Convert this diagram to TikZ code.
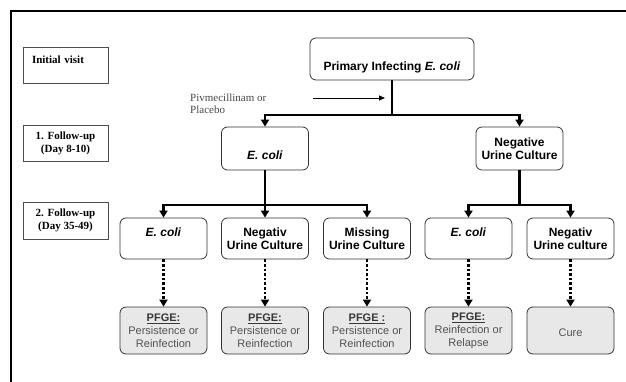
\documentclass[tikz,border=0pt]{standalone}
\usepackage{fontspec}
\setmainfont{Liberation Serif}
\setsansfont{Liberation Sans}
\usetikzlibrary{arrows.meta}
\tikzset{
  box/.style={draw=black!80, line width=0.8pt, rounded corners=6pt,
    minimum width=87pt, minimum height=41pt, inner sep=2pt, align=center,
    font=\sffamily\bfseries\fontsize{12}{13}\selectfont},
  pfgebox/.style={box, fill=black!9, minimum height=47pt, text=black!68,
    font=\sffamily\fontsize{11}{13}\selectfont},
  visit/.style={draw=black!70, line width=0.8pt, minimum width=85pt,
    minimum height=36pt, inner sep=0pt, align=center,
    font=\bfseries\fontsize{11}{13}\selectfont},
  tree/.style={line width=2.6pt},
  treearrow/.style={tree, -{Triangle[width=8pt,length=7pt]}},
  dotarrow/.style={line width=2.8pt, dash pattern=on 2.6pt off 2pt,
    -{Triangle[width=8pt,length=7pt]}},
}
\newcommand{\pfgehead}{{\color{black!78}\bfseries\underline{PFGE:}}}
\begin{document}
\begin{tikzpicture}[x=1pt,y=-1pt]
      \useasboundingbox (0,0) rectangle (626,382);
      % frame
      \draw[line width=2pt] (11,382) -- (11,11) -- (626,11);
      % visits
      \node[visit, text width=67pt, align=left, text height=7pt, text depth=10pt]
        (visit0) at (65.5,65) {Initial visit};
      \node[visit] (visit1) at (65.5,143) {1. Follow-up\\(Day 8-10)};
      \node[visit, minimum height=37pt] (visit2) at (65.5,220.5) {2. Follow-up\\(Day 35-49)};
      % boxes
      \node[box, minimum width=164pt, minimum height=42pt, text height=24.6pt, text depth=2.4pt]
        (prim) at (392,59) {Primary Infecting \textit{E. coli}};
      \node[box, minimum height=43pt, text height=24pt, text depth=2.4pt]
        (ecoliA) at (265,148.5) {\textit{E. coli}};
      \node[box, minimum height=43pt] (negA) at (519.5,148.5) {Negative\\Urine Culture};
      \node[box, text height=8pt, text depth=12.4pt] (ecoliB) at (163.5,238.5) {\textit{E. coli}};
      \node[box] (negB) at (265,238.5) {Negativ\\Urine Culture};
      \node[box] (missB) at (367,238.5) {Missing\\Urine Culture};
      \node[box, text height=8pt, text depth=12.4pt] (ecoliC) at (468.5,238.5) {\textit{E. coli}};
      \node[box] (negC) at (570.5,238.5) {Negativ\\Urine culture};
      % results
      \node[pfgebox] (pfgeB) at (163.5,330.5) {\pfgehead\\Persistence or\\Reinfection};
      \node[pfgebox] (pfgeN) at (265,330.5) {\pfgehead\\Persistence or\\Reinfection};
      \node[pfgebox] (pfgeM) at (367,330.5) {{\color{black!78}\bfseries\underline{PFGE :}}\\Persistence or\\Reinfection};
      \node[pfgebox] (pfgeC) at (468.5,330.5) {\pfgehead\\Reinfection or\\Relapse};
      \node[pfgebox, text height=14pt, text depth=2pt] (cure) at (570.5,330.5) {Cure};
      % treatment
      \node[anchor=west, align=left, text=black!72, font=\fontsize{11}{12}\selectfont,
        inner sep=0pt] (treat) at (190,104) {Pivmecillinam or\\Placebo};
      \coordinate (treatA) at (313,98);
      \coordinate (treatB) at (385,98);
      \draw[line width=0.8pt, -{Triangle[width=5pt,length=6pt]}] (treatA) -- (treatB);
      % connectors
      \coordinate (splitA) at (392,115);
      \coordinate (splitB) at (265,205);
      \coordinate (splitC) at (519.5,205);
      \draw[tree] (prim) -- (splitA);
      \draw[treearrow] (splitA) -| (ecoliA);
      \draw[treearrow] (splitA) -| (negA);
      \draw[tree] (ecoliA) -- (splitB);
      \draw[treearrow] (splitB) -| (ecoliB);
      \draw[treearrow] (splitB) -- (negB);
      \draw[treearrow] (splitB) -| (missB);
      \draw[tree] (negA) -- (splitC);
      \draw[treearrow] (splitC) -| (ecoliC);
      \draw[treearrow] (splitC) -| (negC);
      \draw[dotarrow] (ecoliB) -- (pfgeB);
      \draw[dotarrow] (negB) -- (pfgeN);
      \draw[dotarrow] (missB) -- (pfgeM);
      \draw[dotarrow] (ecoliC) -- (pfgeC);
      \draw[dotarrow] (negC) -- (cure);
    \end{tikzpicture}
\end{document}
